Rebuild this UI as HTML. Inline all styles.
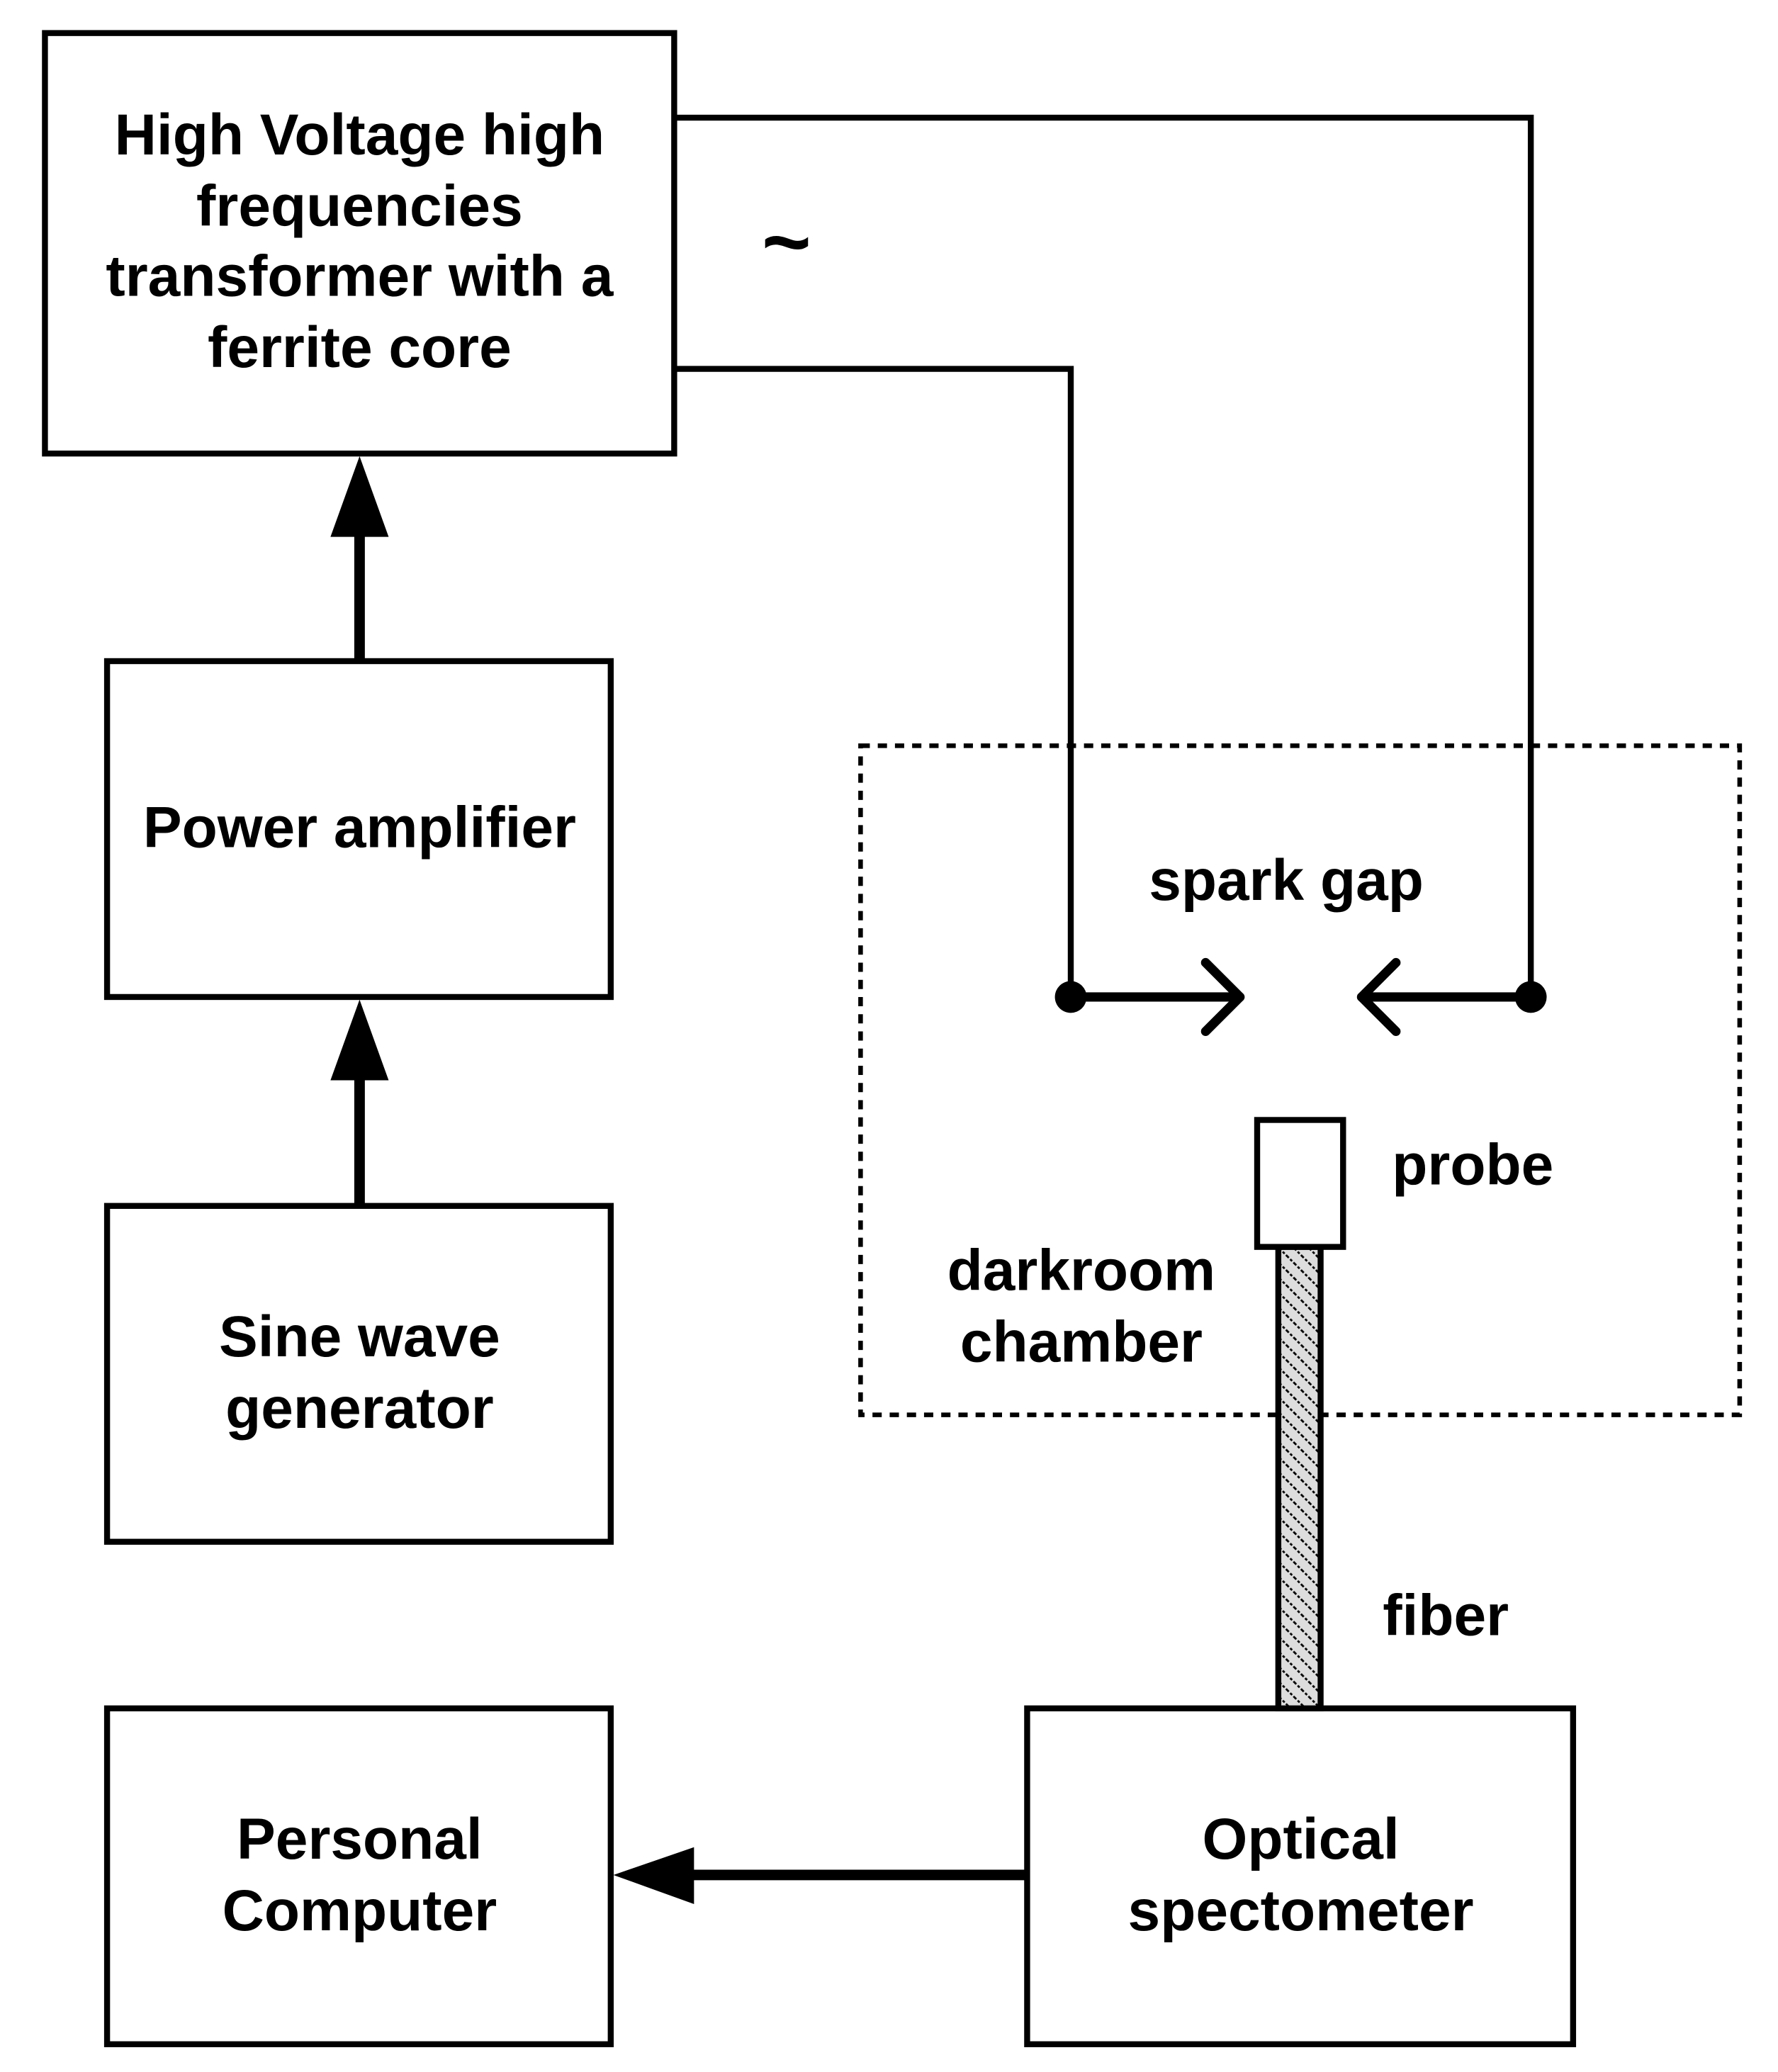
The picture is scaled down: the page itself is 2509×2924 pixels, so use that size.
<!DOCTYPE html>
<html><head><meta charset="utf-8"><style>html,body{margin:0;padding:0;background:#fff}svg{display:block}</style></head>
<body>
<svg width="2509" height="2924" viewBox="0 0 1345 1567" preserveAspectRatio="none" xmlns="http://www.w3.org/2000/svg">
<defs>
<pattern id="hatch" width="8" height="8" patternUnits="userSpaceOnUse" patternTransform="rotate(-45)">
<rect width="8" height="8" fill="#ddd"/><line x1="0" y1="0" x2="0" y2="8" stroke="#000" stroke-width="3" stroke-dasharray="2,1.5"/>
</pattern>
</defs>
<g fill="none" stroke="#000" stroke-width="4.5">
<rect x="34" y="25" width="476" height="318"/>
<rect x="81" y="500" width="381" height="254"/>
<rect x="81" y="912" width="381" height="254"/>
<rect x="81" y="1292" width="381" height="254"/>
<rect x="777" y="1292" width="413" height="254"/>
<polyline points="510,89 1158,89 1158,754"/>
<polyline points="510,279 810,279 810,754"/>
<rect x="651" y="564" width="665" height="506" stroke-width="3.5" stroke-dasharray="7,6"/>
<rect x="967" y="943" width="32" height="349" fill="url(#hatch)"/>
<rect x="951" y="847" width="65" height="96" fill="#fff"/>
</g>
<g stroke="#000" stroke-width="7" fill="none" stroke-linecap="round" stroke-linejoin="round">
<line x1="810" y1="754" x2="938" y2="754"/>
<polyline points="912,728 938,754 912,780"/>
<line x1="1158" y1="754" x2="1030" y2="754"/>
<polyline points="1056,728 1030,754 1056,780"/>
</g>
<circle cx="810" cy="754" r="12"/><circle cx="1158" cy="754" r="12"/>
<g stroke="#000" stroke-width="8">
<line x1="272" y1="500" x2="272" y2="400"/>
<line x1="272" y1="912" x2="272" y2="812"/>
<line x1="777" y1="1418" x2="520" y2="1418"/>
</g>
<polygon points="272,345 250,406 294,406"/>
<polygon points="272,756 250,817 294,817"/>
<polygon points="464,1418 525,1397 525,1440"/>
<g font-family="Liberation Sans, Arial, sans-serif" font-weight="bold" font-size="44" text-anchor="middle" dominant-baseline="central">
<text x="272" y="102">High Voltage high</text>
<text x="272" y="156">frequencies</text>
<text x="272" y="209">transformer with a</text>
<text x="272" y="263">ferrite core</text>
<text x="272" y="626">Power amplifier</text>
<text x="272" y="1011">Sine wave</text>
<text x="272" y="1065">generator</text>
<text x="272" y="1391">Personal</text>
<text x="272" y="1445">Computer</text>
<text x="984" y="1391">Optical</text>
<text x="984" y="1445">spectometer</text>
<text x="973" y="666">spark gap</text>
<text x="595" y="183" font-size="64">~</text>
<text x="818" y="961">darkroom</text>
<text x="818" y="1015">chamber</text>
<text x="1053" y="881" text-anchor="start">probe</text>
<text x="1046" y="1222" text-anchor="start">fiber</text>
</g>
</svg>
</body></html>
